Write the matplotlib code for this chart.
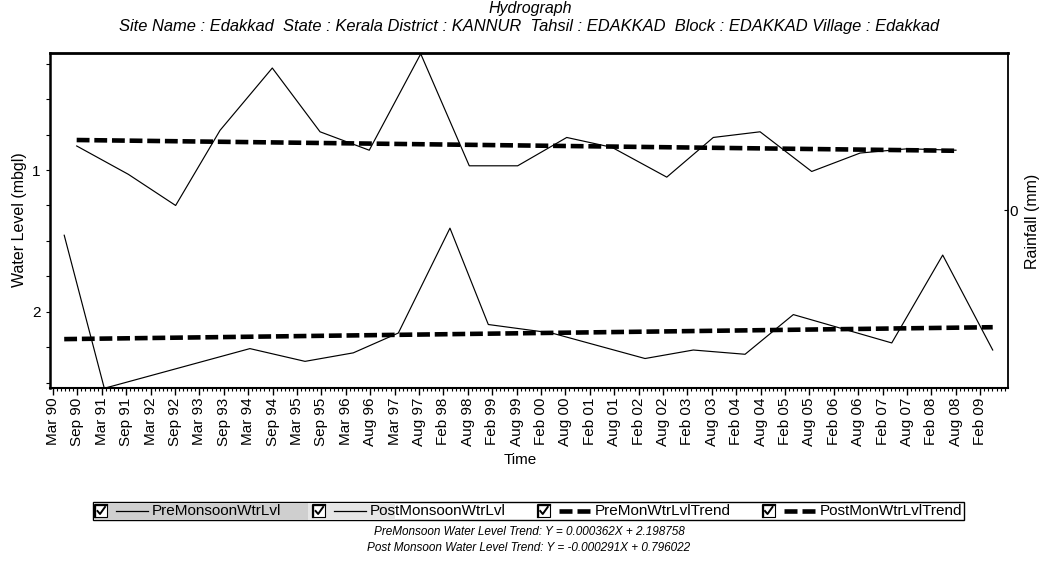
import matplotlib
matplotlib.use('Agg')
import matplotlib.pyplot as plt
import matplotlib.dates as mdates
from matplotlib.patches import Rectangle
from matplotlib.ticker import FixedLocator, MultipleLocator, FuncFormatter
import numpy as np

plt.rcParams['font.family'] = ['Liberation Sans', 'DejaVu Sans']

# ---------------- data ----------------
tick_start = '1990-03-10'
tick_step_days = 182
tick_labels = ['Mar 90', 'Sep 90', 'Mar 91', 'Sep 91', 'Mar 92', 'Sep 92', 'Mar 93',
               'Sep 93', 'Mar 94', 'Sep 94', 'Mar 95', 'Sep 95', 'Mar 96', 'Aug 96',
               'Mar 97', 'Aug 97', 'Feb 98', 'Aug 98', 'Feb 99', 'Aug 99', 'Feb 00',
               'Aug 00', 'Feb 01', 'Aug 01', 'Feb 02', 'Aug 02', 'Feb 03', 'Aug 03',
               'Feb 04', 'Aug 04', 'Feb 05', 'Aug 05', 'Feb 06', 'Aug 06', 'Feb 07',
               'Aug 07', 'Feb 08', 'Aug 08', 'Feb 09']

pre_dates = ['1990-06-02', '1991-03-28', '1994-03-18', '1995-05-03', '1996-04-27',
             '1997-03-29', '1998-04-18', '1999-01-29', '2000-05-16', '2002-04-12',
             '2003-04-07', '2004-04-27', '2005-04-22', '2007-04-26', '2008-05-10',
             '2009-05-18']
pre_levels = [1.46, 2.54, 2.26, 2.35, 2.29, 2.15, 1.41, 2.09, 2.15, 2.33,
              2.27, 2.30, 2.02, 2.22, 1.60, 2.27]

post_dates = ['1990-09-03', '1991-09-23', '1992-09-10', '1993-08-07', '1994-09-01',
              '1995-08-23', '1996-08-24', '1997-09-12', '1998-09-09', '1999-09-05',
              '2000-09-05', '2001-08-09', '2002-09-21', '2003-09-03', '2004-08-17',
              '2005-09-06', '2006-09-02', '2007-08-18', '2008-08-17']
post_levels = [0.83, 1.03, 1.25, 0.72, 0.28, 0.73, 0.86, 0.18, 0.97, 0.97,
               0.77, 0.84, 1.05, 0.77, 0.73, 1.01, 0.88, 0.85, 0.86]

pre_trend = [2.193, 2.109]
post_trend = [0.788, 0.864]

legend_labels = ['PreMonsoonWtrLvl', 'PostMonsoonWtrLvl', 'PreMonWtrLvlTrend', 'PostMonWtrLvlTrend']
legend_dashed = [False, False, True, True]

title = 'Hydrograph'
subtitle = ('Site Name : Edakkad  State : Kerala District : KANNUR  Tahsil : EDAKKAD  '
            'Block : EDAKKAD Village : Edakkad')
trend_text = ['PreMonsoon Water Level Trend: Y = 0.000362X + 2.198758',
              'Post Monsoon Water Level Trend: Y = -0.000291X + 0.796022']

# ---------------- figure ----------------
W, H = 1040, 573
fig = plt.figure(figsize=(W / 100, H / 100), dpi=100)
fig.patch.set_facecolor('white')

ax = fig.add_axes([50 / W, 1 - 388 / H, 958 / W, 335 / H])

d0 = mdates.datestr2num(tick_start)
pre_x = mdates.datestr2num(pre_dates)
post_x = mdates.datestr2num(post_dates)

ax.plot(pre_x, pre_levels, color='black', lw=0.85, zorder=3)
ax.plot(post_x, post_levels, color='black', lw=0.85, zorder=3)
ax.plot([pre_x[0], pre_x[-1]], pre_trend, color='black', lw=3.3,
        dashes=(2.8, 1.05), zorder=4)
ax.plot([post_x[0], post_x[-1]], post_trend, color='black', lw=3.3,
        dashes=(2.8, 1.05), zorder=4)

ax.set_ylim(2.538, 0.174)
ax.yaxis.set_major_locator(FixedLocator([1, 2]))
ax.yaxis.set_minor_locator(MultipleLocator(0.25))
ax.yaxis.set_major_formatter(FuncFormatter(lambda v, p: f'{v:g}'))

tick_x = [d0 + k * tick_step_days for k in range(len(tick_labels))]
ax.set_xticks(tick_x)
ax.set_xticklabels(tick_labels, rotation=90, fontsize=11)
ax.xaxis.set_minor_locator(FixedLocator(np.arange(d0 - tick_step_days, d0 + 41 * tick_step_days,
                                                  tick_step_days / 6)))
ax.set_xlim(d0 - 22, d0 + 7123)

ax.tick_params(axis='x', which='major', length=5, width=1, direction='out', pad=2)
ax.tick_params(axis='x', which='minor', length=2.5, width=0.8, direction='out')
ax.tick_params(axis='y', which='both', length=3, width=0.8, direction='out', pad=4,
               labelsize=11)

ax.spines['top'].set_linewidth(2.0)
ax.spines['left'].set_linewidth(1.8)
ax.spines['bottom'].set_linewidth(1.5)
ax.spines['right'].set_linewidth(1.3)

ax2 = ax.twinx()
ax2.set_ylim(-0.531, 0.469)
ax2.set_yticks([0])
ax2.tick_params(axis='y', length=3, direction='in', pad=1, labelsize=11)
for s in ax2.spines.values():
    s.set_visible(False)
ax2.patch.set_visible(False)

# ---------------- overlay for texts / legend ----------------
oax = fig.add_axes([0, 0, 1, 1])
oax.set_xlim(0, W)
oax.set_ylim(H, 0)
oax.axis('off')

oax.text(530, 9, title, ha='center', va='center', style='italic', fontsize=11.5)
oax.text(529, 27, subtitle, ha='center', va='center', style='italic', fontsize=11.9)
oax.text(20, 220, 'Water Level (mbgl)', ha='center', va='center', rotation=90, fontsize=11.5)
oax.text(1033, 221, 'Rainfall (mm)', ha='center', va='center', rotation=90, fontsize=11.5)
oax.text(520, 460, 'Time', ha='center', va='center', fontsize=11)

# legend
renderer = fig.canvas.get_renderer()
box_l, box_r, box_t, box_b = 93, 964, 502, 520
yc = (box_t + box_b) / 2
texts = []
widths = []
for lab in legend_labels:
    t = oax.text(0, yc, lab, ha='left', va='center', fontsize=11)
    texts.append(t)
    widths.append(t.get_window_extent(renderer).width)
cb, g1, ln, g2 = 12, 9, 32, 4
fixed = cb + g1 + ln + g2
content = sum(fixed + w for w in widths)
margin = 2
gap = (box_r - box_l - 2 * margin - content) / (len(widths) - 1)

oax.add_patch(Rectangle((box_l, box_t), box_r - box_l, box_b - box_t,
                        facecolor='white', edgecolor='black', lw=1.0, zorder=1))
x = box_l + margin
starts = []
for i, (t, w) in enumerate(zip(texts, widths)):
    starts.append(x)
    x += fixed + w + gap
# shaded backgrounds of the first items
oax.add_patch(Rectangle((box_l + 0.5, box_t + 0.5), starts[1] - box_l - 6, box_b - box_t - 1,
                        facecolor='#cfcfcf', edgecolor='none', zorder=1.5))
oax.add_patch(Rectangle((starts[1] - 5.5, box_t + 0.5), fixed + 30, box_b - box_t - 1,
                        facecolor='#e6e6e6', edgecolor='none', zorder=1.5))
for i, (t, w) in enumerate(zip(texts, widths)):
    x0 = starts[i]
    cy = yc
    oax.add_patch(Rectangle((x0, cy - cb / 2), cb, cb, facecolor='white',
                            edgecolor='black', lw=0.8, zorder=2))
    oax.plot([x0, x0, x0 + cb], [cy + cb / 2, cy - cb / 2, cy - cb / 2], color='black',
             lw=1.6, zorder=3)
    oax.plot([x0 + 2.5, x0 + 5, x0 + 10], [cy, cy + 3, cy - 4], color='black', lw=1.4,
             zorder=3)
    lx = x0 + cb + g1
    if legend_dashed[i]:
        oax.plot([lx, lx + 13], [cy, cy], color='black', lw=3.3, solid_capstyle='butt', zorder=3)
        oax.plot([lx + 18, lx + 31], [cy, cy], color='black', lw=3.3, solid_capstyle='butt', zorder=3)
    else:
        oax.plot([lx, lx + ln], [cy, cy], color='black', lw=0.9, zorder=3)
    t.set_x(lx + ln + g2)
    t.set_zorder(4)

oax.text(529, 532, trend_text[0], ha='center', va='center', style='italic', fontsize=8.5)
oax.text(529, 548, trend_text[1], ha='center', va='center', style='italic', fontsize=8.5)

fig.savefig('out.png', dpi=100, facecolor='white')
